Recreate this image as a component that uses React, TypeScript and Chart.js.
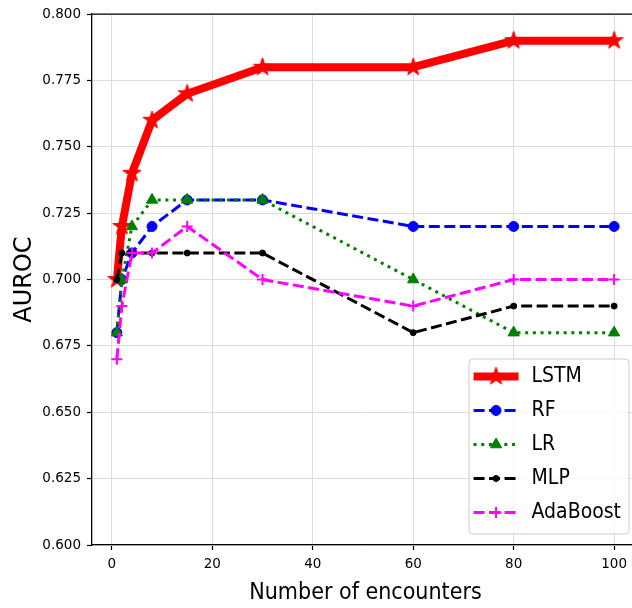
import React, { useEffect, useRef } from 'react';
import { Chart, registerables } from 'chart.js';

Chart.register(...registerables);

// Number of encounters on the x axis
const encounters = [1, 2, 4, 8, 15, 30, 60, 80, 100];

// AUROC per model
const lstmAuroc = [0.70, 0.72, 0.74, 0.76, 0.77, 0.78, 0.78, 0.79, 0.79];
const rfAuroc = [0.68, 0.70, 0.71, 0.72, 0.73, 0.73, 0.72, 0.72, 0.72];
const lrAuroc = [0.68, 0.70, 0.72, 0.73, 0.73, 0.73, 0.70, 0.68, 0.68];
const mlpAuroc = [0.70, 0.71, 0.71, 0.71, 0.71, 0.71, 0.68, 0.69, 0.69];
const adaAuroc = [0.67, 0.69, 0.71, 0.71, 0.72, 0.70, 0.69, 0.70, 0.70];

const xTickValues = [0, 20, 40, 60, 80, 100];
const yTickValues = [0.6, 0.625, 0.65, 0.675, 0.7, 0.725, 0.75, 0.775, 0.8];

const xTitle = 'Number of encounters';
const yTitle = 'AUROC';

const SANS = "'DejaVu Sans', sans-serif";
const COND = "'DejaVu Sans Condensed', 'DejaVu Sans', sans-serif";

// Filled five-pointed star used as the LSTM marker
function makeStar(radius: number, color: string): HTMLCanvasElement {
  const pad = 2;
  const size = Math.ceil(2 * (radius + pad));
  const c = document.createElement('canvas');
  c.width = size;
  c.height = size;
  const ctx = c.getContext('2d')!;
  const cx = size / 2;
  const cy = size / 2;
  ctx.beginPath();
  for (let k = 0; k < 10; k++) {
    const a = -Math.PI / 2 + (k * Math.PI) / 5;
    const r = k % 2 === 0 ? radius : radius * 0.382;
    const px = cx + r * Math.cos(a);
    const py = cy + r * Math.sin(a);
    if (k === 0) ctx.moveTo(px, py);
    else ctx.lineTo(px, py);
  }
  ctx.closePath();
  ctx.fillStyle = color;
  ctx.strokeStyle = color;
  ctx.lineWidth = 1;
  ctx.lineJoin = 'miter';
  ctx.fill();
  ctx.stroke();
  return c;
}

function drawMarker(ctx: CanvasRenderingContext2D, d: any, x: number, y: number) {
  const style = d.pointStyle;
  const r = d.pointRadius;
  ctx.save();
  ctx.setLineDash([]);
  ctx.fillStyle = d.pointBackgroundColor;
  ctx.strokeStyle = d.pointBorderColor;
  ctx.lineWidth = d.pointBorderWidth;
  if (style instanceof HTMLCanvasElement) {
    ctx.drawImage(style, x - style.width / 2, y - style.height / 2);
  } else if (style === 'circle') {
    ctx.beginPath();
    ctx.arc(x, y, r, 0, Math.PI * 2);
    ctx.fill();
    ctx.stroke();
  } else if (style === 'triangle') {
    ctx.beginPath();
    for (let k = 0; k < 3; k++) {
      const a = (k * 2 * Math.PI) / 3;
      const px = x + Math.sin(a) * r;
      const py = y - Math.cos(a) * r;
      if (k === 0) ctx.moveTo(px, py);
      else ctx.lineTo(px, py);
    }
    ctx.closePath();
    ctx.fill();
    ctx.stroke();
  } else if (style === 'cross') {
    ctx.beginPath();
    ctx.moveTo(x - r, y);
    ctx.lineTo(x + r, y);
    ctx.moveTo(x, y - r);
    ctx.lineTo(x, y + r);
    ctx.stroke();
  }
  ctx.restore();
}

// Boxed legend in the lower-right corner with line + marker samples
const boxLegend = {
  id: 'boxLegend',
  afterDraw(chart: any) {
    const ctx: CanvasRenderingContext2D = chart.ctx;
    const area = chart.chartArea;
    const items = chart.data.datasets;
    ctx.save();
    ctx.font = `21px ${COND}`;
    const textW = Math.max(...items.map((d: any) => ctx.measureText(d.label).width));
    const rowH = 34;
    const handle = 45;
    const gap = 13;
    const padL = 4.5;
    const padR = 8;
    const padT = 17.5;
    const padB = 21.5;
    const w = padL + handle + gap + textW + padR;
    const h = padT + (items.length - 1) * rowH + padB;
    const right = area.right - 10;
    const bottom = area.bottom - 11;
    const left = right - w;
    const top = bottom - h;

    const rad = 4;
    ctx.beginPath();
    ctx.moveTo(left + rad, top);
    ctx.lineTo(right - rad, top);
    ctx.arcTo(right, top, right, top + rad, rad);
    ctx.lineTo(right, bottom - rad);
    ctx.arcTo(right, bottom, right - rad, bottom, rad);
    ctx.lineTo(left + rad, bottom);
    ctx.arcTo(left, bottom, left, bottom - rad, rad);
    ctx.lineTo(left, top + rad);
    ctx.arcTo(left, top, left + rad, top, rad);
    ctx.closePath();
    ctx.fillStyle = 'rgba(255,255,255,0.8)';
    ctx.fill();
    ctx.strokeStyle = '#cccccc';
    ctx.lineWidth = 1;
    ctx.stroke();

    items.forEach((d: any, i: number) => {
      const cy = top + padT + i * rowH;
      const x0 = left + padL;
      const x1 = x0 + handle;
      ctx.save();
      ctx.beginPath();
      ctx.setLineDash(d.borderDash || []);
      ctx.lineWidth = d.borderWidth;
      ctx.strokeStyle = d.borderColor;
      ctx.lineCap = 'butt';
      ctx.moveTo(x0, cy);
      ctx.lineTo(x1, cy);
      ctx.stroke();
      ctx.restore();
      drawMarker(ctx, d, (x0 + x1) / 2, cy);
      ctx.fillStyle = '#000';
      ctx.textBaseline = 'middle';
      ctx.textAlign = 'left';
      ctx.fillText(d.label, x1 + gap, cy);
    });
    ctx.restore();
  },
};

// Top frame line of the plot area
const topSpine = {
  id: 'topSpine',
  afterDatasetsDraw(chart: any) {
    const { ctx, chartArea } = chart;
    ctx.save();
    ctx.beginPath();
    ctx.strokeStyle = '#000';
    ctx.lineWidth = 1.3;
    ctx.moveTo(chartArea.left, chartArea.top);
    ctx.lineTo(chartArea.right, chartArea.top);
    ctx.stroke();
    ctx.restore();
  },
};

const toPoints = (ys: number[]) => encounters.map((x, i) => ({ x, y: ys[i] }));

export default function App() {
  const canvasRef = useRef<HTMLCanvasElement>(null);

  useEffect(() => {
    const canvas = canvasRef.current;
    if (!canvas) return;
    const star = makeStar(9.5, '#ff0000');
    const dash = [11, 4.5];
    const chart = new Chart(canvas, {
      type: 'line',
      data: {
        datasets: [
          {
            label: 'LSTM',
            data: toPoints(lstmAuroc),
            borderColor: '#ff0000',
            backgroundColor: '#ff0000',
            borderWidth: 8,
            borderJoinStyle: 'round',
            pointStyle: star as any,
            pointRadius: 9.5,
            pointBackgroundColor: '#ff0000',
            pointBorderColor: '#ff0000',
            pointBorderWidth: 1,
            order: 5,
          },
          {
            label: 'RF',
            data: toPoints(rfAuroc),
            borderColor: '#0000ff',
            backgroundColor: '#0000ff',
            borderWidth: 3,
            borderDash: dash,
            pointStyle: 'circle',
            pointRadius: 5,
            pointBackgroundColor: '#0000ff',
            pointBorderColor: '#0000ff',
            pointBorderWidth: 1,
            order: 4,
          },
          {
            label: 'LR',
            data: toPoints(lrAuroc),
            borderColor: '#008000',
            backgroundColor: '#008000',
            borderWidth: 3,
            borderDash: [3, 4.7],
            pointStyle: 'triangle',
            pointRadius: 6.5,
            pointBackgroundColor: '#008000',
            pointBorderColor: '#008000',
            pointBorderWidth: 1,
            order: 3,
          },
          {
            label: 'MLP',
            data: toPoints(mlpAuroc),
            borderColor: '#000000',
            backgroundColor: '#000000',
            borderWidth: 3,
            borderDash: dash,
            pointStyle: 'circle',
            pointRadius: 3,
            pointBackgroundColor: '#000000',
            pointBorderColor: '#000000',
            pointBorderWidth: 1,
            order: 2,
          },
          {
            label: 'AdaBoost',
            data: toPoints(adaAuroc),
            borderColor: '#ff00ff',
            backgroundColor: '#ff00ff',
            borderWidth: 3,
            borderDash: dash,
            pointStyle: 'cross',
            pointRadius: 5.5,
            pointBackgroundColor: '#ff00ff',
            pointBorderColor: '#ff00ff',
            pointBorderWidth: 2,
            order: 1,
          },
        ],
      },
      options: {
        responsive: false,
        animation: false,
        devicePixelRatio: 1,
        events: [],
        layout: { autoPadding: false, padding: { top: 12, right: 1, left: 0, bottom: 0 } },
        plugins: {
          legend: { display: false },
          tooltip: { enabled: false },
        },
        elements: { line: { tension: 0 } },
        scales: {
          x: {
            type: 'linear',
            min: -3.95,
            max: 104.95,
            afterBuildTicks: (s: any) => {
              s.ticks = xTickValues.map((v) => ({ value: v }));
            },
            afterFit: (s: any) => {
              s.height = 63;
            },
            ticks: {
              color: '#000',
              font: { family: SANS, size: 13.5 },
              padding: 6,
              maxRotation: 0,
              callback: (v: any) => String(v),
            },
            grid: {
              color: '#dcdcdc',
              lineWidth: 1,
              tickColor: '#000',
              tickLength: 5,
              tickWidth: 1.2,
            },
            border: { color: '#000', width: 1.3 },
            title: {
              display: true,
              text: xTitle,
              color: '#000',
              font: { family: COND, size: 23 },
              padding: { top: 0, bottom: 1.5 },
            },
          },
          y: {
            type: 'linear',
            min: 0.6,
            max: 0.8,
            afterBuildTicks: (s: any) => {
              s.ticks = yTickValues.map((v) => ({ value: v }));
            },
            afterFit: (s: any) => {
              s.width = 92;
            },
            ticks: {
              color: '#000',
              font: { family: SANS, size: 13.5 },
              padding: 6,
              callback: (v: any) => Number(v).toFixed(3),
            },
            grid: {
              color: '#dcdcdc',
              lineWidth: 1,
              tickColor: '#000',
              tickLength: 5,
              tickWidth: 1.2,
            },
            border: { color: '#000', width: 1.3 },
            title: {
              display: true,
              text: yTitle,
              color: '#000',
              font: { family: SANS, size: 24 },
              padding: { top: 10.3, bottom: 0 },
            },
          },
        },
      } as any,
      plugins: [topSpine, boxLegend],
    });
    return () => chart.destroy();
  }, []);

  return (
    <div
      style={{
        position: 'fixed',
        left: 0,
        top: 0,
        width: 632,
        height: 608,
        overflow: 'hidden',
        background: '#fff',
      }}
    >
      <canvas ref={canvasRef} width={640} height={608} style={{ display: 'block' }} />
    </div>
  );
}
